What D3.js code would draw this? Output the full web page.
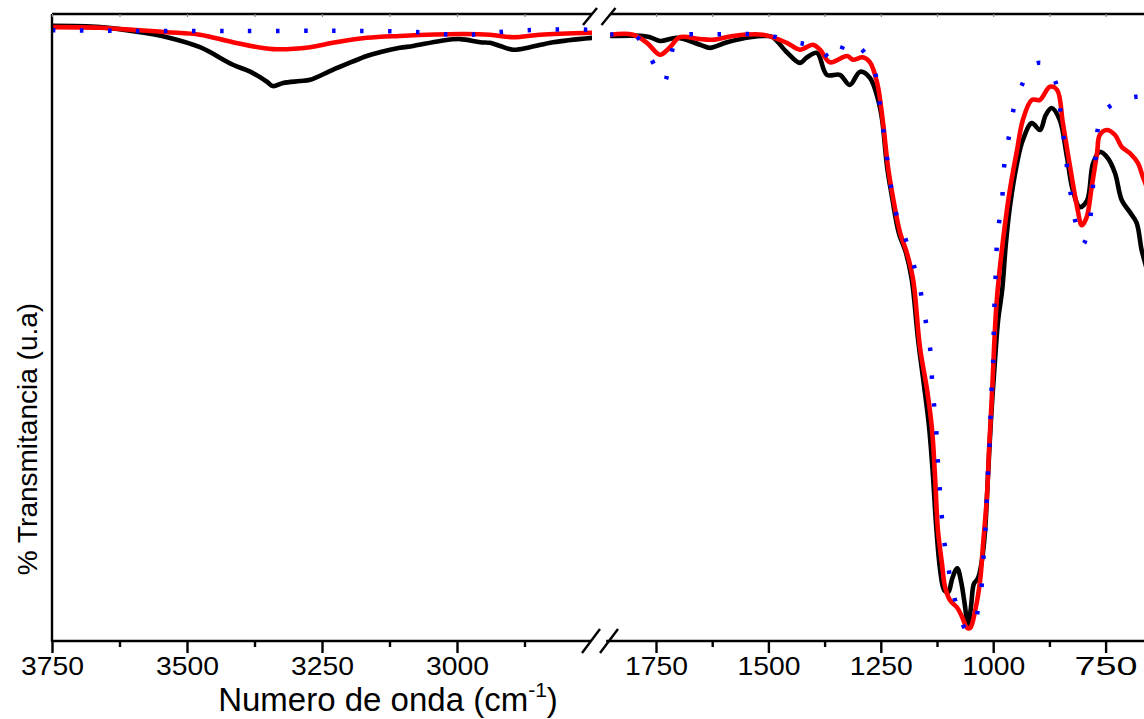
<!DOCTYPE html>
<html>
<head>
<meta charset="utf-8">
<script src="https://cdn.jsdelivr.net/npm/d3@7"></script>
<style>
  html, body { margin: 0; padding: 0; background: #fff; }
  svg { display: block; font-family: "Liberation Sans", Arial, sans-serif; }
</style>
</head>
<body>
<svg id="chart" width="1144" height="719"></svg>
<script>
// ---- FTIR spectra: wavenumber (cm-1) and transmittance (arbitrary units, 0-100) ----

// black spectrum
const blackWave = [3750,3661,3587,3537,3476,3415,3383,3352,3341,3322,3291,3272,3230,3167,3143,3106,3081,3031,2994,2957,2939,2920,2896,2865,2822,2750,
  1852,1779,1763,1741,1703,1652,1630,1592,1541,1503,1490,1459,1430,1414,1392,1370,1341,1319,1296,1274,1256,1247,
  1236,1225,1210,1194,1181,1167,1154,1143,1134,1127,1118,1109,1100,1091,1080,1072,1063,1056,1049,1043,1034,1025,1018,1012,1005,996,989,980,972,963,947,934,914,896,883,870,852,836,823,807,791,778,763,745,729,714,696,681,670,661,648];
const blackTrans = [98.1,97.9,97.1,96.3,94.7,91.9,90.8,89.2,88.5,89.0,89.3,89.5,91.1,93.3,93.9,94.6,94.9,95.7,96.0,95.5,95.4,94.9,94.3,94.7,95.5,96.2,
  96.5,96.5,96.3,95.7,96.2,95.1,94.6,95.5,96.3,96.5,96.3,93.9,92.2,93.1,93.8,90.3,90.3,88.7,90.8,89.8,86.3,83.1,
  75.6,70.8,65.1,61.9,57.6,48.0,40.8,34.4,26.4,18.5,11.3,8.1,7.8,10.0,11.6,9.7,5.7,2.1,5.7,9.1,10.0,12.9,17.7,25.7,35.2,44.8,51.2,56.0,63.2,69.2,76.2,79.9,82.6,81.5,83.9,85.0,83.1,77.2,71.9,69.2,70.3,76.2,78.0,77.0,74.6,70.3,68.4,66.7,62.4,60.0,56.8];

// red spectrum
const redWave = [3750,3661,3587,3537,3476,3415,3341,3272,3230,3167,3106,2994,2939,2896,2846,2750,
  1852,1801,1770,1741,1719,1697,1652,1623,1579,1512,1459,1430,1401,1385,1363,1325,1312,1290,1274,1258,1245,
  1234,1223,1207,1192,1178,1163,1147,1136,1129,1123,1114,1107,1096,1080,1069,1058,1051,1040,1029,1023,1014,1009,1003,998,992,978,963,947,934,914,896,874,858,845,829,812,803,792,781,769,763,747,729,714,696,678,667,651];
const redTrans = [97.9,97.8,97.4,97.1,96.7,95.5,94.4,94.7,95.4,96.2,96.5,96.8,96.7,96.3,96.7,97.0,
  96.7,96.7,95.4,93.5,94.7,96.3,96.0,95.9,96.5,96.7,95.4,94.3,95.1,94.3,92.3,93.3,92.7,93.1,92.3,89.0,82.6,
  75.6,70.8,65.1,61.9,57.6,46.9,40.0,33.7,25.7,17.7,12.4,8.6,6.5,5.3,3.8,2.1,2.1,4.9,9.7,15.0,23.0,30.9,38.9,46.9,54.4,64.0,71.9,78.3,83.1,86.3,86.3,88.4,87.9,82.6,75.6,68.7,66.3,67.6,72.4,77.8,80.7,81.5,80.7,78.8,77.8,76.2,74.0,71.1];

// blue spectrum (dotted)
const blueWave = [3750,3600,3400,3200,3100,3050,2994,2950,2896,2840,2750,
  1852,1799,1763,1732,1719,1701,1634,1570,1508,1441,1390,1352,1325,1274,1258,1252,1245,1238,1232,1223,1212,1192,1176,1163,1154,1145,1138,1136,1132,1127,1125,1121,1118,1114,1109,1101,1092,1078,1060,1047,1032,1025,1020,1016,1014,1012,1009,1007,1005,1003,1000,999,998,996,994,992,987,980,978,972,963,954,936,909,885,858,851,845,838,834,825,818,800,785,780,776,771,767,754,740,714,682,667,640];
const blueTrans = [97.4,97.3,97.3,97.3,97.2,97.0,96.6,96.9,97.3,97.5,97.5,
  96.7,96.7,93.1,89.2,92.5,96.3,96.7,96.8,96.7,95.5,94.7,92.3,95.7,92.8,89.0,85.5,81.8,78.1,74.5,70.8,67.1,63.5,59.8,56.3,52.5,49.0,45.1,41.5,38.0,34.1,30.6,26.8,23.3,19.6,15.9,12.3,8.6,4.9,1.8,1.9,5.7,9.3,15.5,19.1,22.8,26.5,30.1,33.8,37.3,41.1,44.7,48.3,52.0,55.7,59.3,63.0,66.7,70.3,74.0,77.7,81.2,85.0,88.7,92.0,92.0,88.5,84.8,81.2,77.5,74.0,70.3,67.1,63.3,67.1,70.8,74.5,78.0,81.8,84.4,85.3,86.3,86.8,86.8,86.8];

// axis ticks for the two segments of the broken wavenumber axis
const leftMajorTicks = [3750, 3500, 3250, 3000];
const leftMinorTicks = [3625, 3375, 3125, 2875];
const rightMajorTicks = [1750, 1500, 1250, 1000, 750];
const rightMinorTicks = [1625, 1375, 1125, 875];
const leftLimits = [3750, 2750];
const rightLimits = [1852, 600];

const xLabel = "Numero de onda (cm";
const yLabel = "% Transmitancia (u.a)";

// ---- layout ----
const svg = d3.select("#chart");
const W = 1144, H = 719;
const plotTop = 14, plotBottom = 641;

const xLeft = d3.scaleLinear().domain([3750, 3000]).range([52, 457]);
const xRight = d3.scaleLinear().domain([1750, 750]).range([656, 1105.6]);
const y = d3.scaleLinear().domain([0, 100]).range([plotBottom, plotTop]);

const series = [
  { wave: blackWave, trans: blackTrans, color: "#000000", dash: null },
  { wave: redWave, trans: redTrans, color: "#ff0000", dash: null },
  { wave: blueWave, trans: blueTrans, color: "#0000ff", dash: "3.5,24.5" }
];

const defs = svg.append("defs");
const panels = [
  { id: "clipL", x: xLeft, lim: leftLimits },
  { id: "clipR", x: xRight, lim: rightLimits }
];
panels.forEach(p => {
  const x0 = p.x(p.lim[0]), x1 = Math.min(p.x(p.lim[1]), W);
  defs.append("clipPath").attr("id", p.id)
    .append("rect").attr("x", x0).attr("y", 0).attr("width", x1 - x0).attr("height", plotBottom);
});

// ---- spectra ----
panels.forEach(p => {
  const g = svg.append("g").attr("clip-path", `url(#${p.id})`);
  const hi = Math.max(...p.lim), lo = Math.min(...p.lim);
  series.forEach(s => {
    const pts = s.wave.map((w, i) => [w, s.trans[i]])
      .filter(d => d[0] <= hi + 1 && d[0] >= lo - 60)
      .sort((a, b) => b[0] - a[0]);
    const line = d3.line().x(d => p.x(d[0])).y(d => y(d[1])).curve(d3.curveCatmullRom.alpha(0.5));
    const path = g.append("path").datum(pts)
      .attr("d", line)
      .attr("fill", "none")
      .attr("stroke", s.color)
      .attr("stroke-width", s.dash ? 4.5 : 4.6)
      .attr("stroke-linejoin", "round")
      .attr("stroke-linecap", s.dash ? "butt" : "round");
    if (s.dash) path.attr("stroke-dasharray", s.dash);
  });
});

// ---- frame and axes ----
const frame = svg.append("g").attr("stroke", "#000").attr("stroke-width", 2.4).attr("fill", "none");
const lx0 = xLeft(leftLimits[0]), lx1 = xLeft(leftLimits[1]) - 1;
const rx0 = xRight(rightLimits[0]) - 2, rx1 = W + 10;
// left axis
frame.append("line").attr("x1", lx0).attr("x2", lx0).attr("y1", plotTop).attr("y2", plotBottom + 1);
// top border (two segments)
frame.append("line").attr("x1", lx0).attr("x2", lx1 + 1).attr("y1", plotTop).attr("y2", plotTop);
frame.append("line").attr("x1", rx0 + 2).attr("x2", rx1).attr("y1", plotTop).attr("y2", plotTop);
// bottom axis (two segments)
frame.append("line").attr("x1", lx0).attr("x2", lx1).attr("y1", plotBottom).attr("y2", plotBottom);
frame.append("line").attr("x1", rx0 - 2).attr("x2", rx1).attr("y1", plotBottom).attr("y2", plotBottom);

// break marks
[[591, plotBottom, 9, 12], [609, plotBottom, 9, 12], [590, plotTop + 2.5, 7, 8.5], [608.5, plotTop + 2.5, 7, 8.5]].forEach(([cx, cy, dx, dy]) => {
  frame.append("line").attr("x1", cx - dx).attr("y1", cy + dy).attr("x2", cx + dx).attr("y2", cy - dy);
});

function drawAxis(scale, majors, minors) {
  const gMaj = svg.append("g").attr("transform", `translate(0,${plotBottom})`)
    .call(d3.axisBottom(scale).tickValues(majors).tickSize(12).tickFormat(d3.format("d")));
  gMaj.select(".domain").remove();
  gMaj.selectAll(".tick line").attr("stroke-width", 2.4);
  gMaj.selectAll(".tick text")
    .attr("y", 34).attr("dy", 0)
    .attr("font-size", 25)
    .attr("font-family", "Liberation Sans, Arial, sans-serif")
    .attr("fill", "#000")
    .attr("textLength", 63)
    .attr("lengthAdjust", "spacingAndGlyphs");
  const gMin = svg.append("g").attr("transform", `translate(0,${plotBottom})`)
    .call(d3.axisBottom(scale).tickValues(minors).tickSize(6).tickFormat(""));
  gMin.select(".domain").remove();
  gMin.selectAll(".tick line").attr("stroke-width", 2.4);
  // faint inward ticks on the top border
  const gTop = svg.append("g").attr("transform", `translate(0,${plotTop})`)
    .call(d3.axisTop(scale).tickValues(majors.concat(minors)).tickSize(-3).tickFormat(""));
  gTop.select(".domain").remove();
  gTop.selectAll(".tick line").attr("stroke", "#888").attr("stroke-width", 1.2);
}
drawAxis(xLeft, leftMajorTicks, leftMinorTicks);
drawAxis(xRight, rightMajorTicks, rightMinorTicks);

// ---- axis titles ----
const xt = svg.append("text")
  .attr("x", 388).attr("y", 711)
  .attr("text-anchor", "middle")
  .attr("font-size", 33)
  .attr("fill", "#000");
xt.append("tspan").text(xLabel);
xt.append("tspan").attr("font-size", 21).attr("dy", -14).text("-1");
xt.append("tspan").attr("dy", 14).text(")");

svg.append("text")
  .attr("transform", "translate(37,439) rotate(-90)")
  .attr("text-anchor", "middle")
  .attr("font-size", 28)
  .attr("fill", "#000")
  .text(yLabel);
</script>
</body>
</html>
